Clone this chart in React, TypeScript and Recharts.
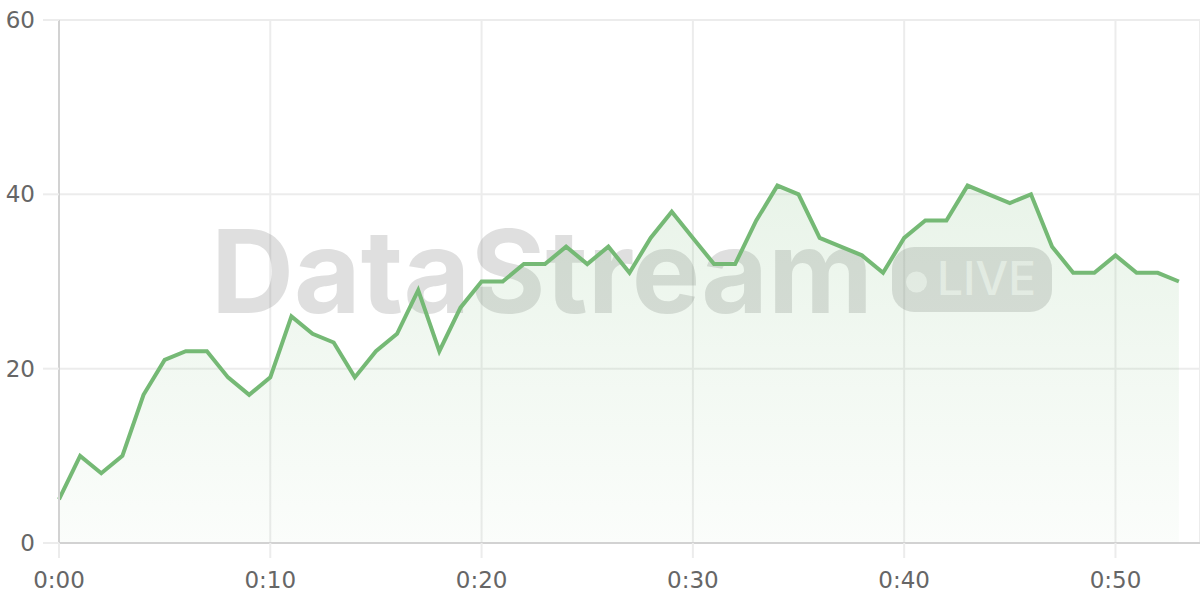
import React from 'react';
import { ComposedChart, Area, Line, XAxis, YAxis, CartesianGrid, Customized } from 'recharts';

// one reading per minute, 0:00 .. 0:53
const values = [
    5, 10, 8, 10, 17, 21, 22, 22, 19, 17,
    19, 26, 24, 23, 19, 22, 24, 29, 22, 27,
    30, 30, 32, 32, 34, 32, 34, 31, 35, 38,
    35, 32, 32, 37, 41, 40, 35, 34, 33, 31,
    35, 37, 37, 41, 40, 39, 40, 34, 31, 31,
    33, 31, 31, 30
];
const xTicks = [0, 10, 20, 30, 40, 50];
const xTickLabels = ['0:00', '0:10', '0:20', '0:30', '0:40', '0:50'];
const yTicks = [0, 20, 40, 60];

const data = values.map((value, minute) => ({ minute, value }));

const GREEN = '#75b975';
const AXIS_FONT = { fontFamily: 'DejaVu Sans', fontSize: 23, fill: '#666666' };

const Watermark = () => (
    <g pointerEvents="none">
        <text
            x={211}
            y={313}
            fontFamily="Inter"
            fontWeight={700}
            fontSize={115}
            letterSpacing={0}
            fill="rgba(120,120,120,0.24)"
        >
            DataStream
        </text>
        <rect x={892} y={247} width={160} height={65} rx={22} fill="rgba(120,120,120,0.24)" />
        <circle cx={916.5} cy={282} r={10.5} fill="rgba(255,255,255,0.6)" />
        <text x={937} y={295} fontFamily="Inter" fontWeight={500} fontSize={46} fill="rgba(255,255,255,0.6)">
            LIVE
        </text>
    </g>
);

export default function App() {
    return (
        <div style={{ width: 1200, height: 600, background: '#ffffff' }}>
            <style>{'body { margin: 0; }'}</style>
            <ComposedChart width={1200} height={600} data={data} margin={{ top: 20, right: 0, left: 0, bottom: 0 }}>
                <defs>
                    <linearGradient id="areaFill" x1="0" y1="0" x2="0" y2="1">
                        <stop offset="0%" stopColor={GREEN} stopOpacity={0.27} />
                        <stop offset="100%" stopColor={GREEN} stopOpacity={0.05} />
                    </linearGradient>
                </defs>
                <CartesianGrid stroke="#ececec" strokeWidth={2} />
                <XAxis
                    dataKey="minute"
                    type="number"
                    domain={[0, 54]}
                    ticks={xTicks}
                    tickFormatter={(v: number) => xTickLabels[xTicks.indexOf(v)]}
                    height={57}
                    tickSize={15}
                    tickMargin={14}
                    tick={AXIS_FONT}
                    tickLine={{ stroke: '#ececec', strokeWidth: 2 }}
                    axisLine={{ stroke: '#d2d2d2', strokeWidth: 2 }}
                    interval={0}
                />
                <YAxis
                    domain={[0, 60]}
                    ticks={yTicks}
                    width={59}
                    tickSize={16}
                    tickMargin={8}
                    tick={AXIS_FONT}
                    tickLine={{ stroke: '#ececec', strokeWidth: 2 }}
                    axisLine={{ stroke: '#d2d2d2', strokeWidth: 2 }}
                    interval={0}
                />
                <Area
                    type="linear"
                    dataKey="value"
                    stroke="none"
                    fill="url(#areaFill)"
                    isAnimationActive={false}
                />
                <Customized component={Watermark} />
                <Line
                    type="linear"
                    dataKey="value"
                    stroke={GREEN}
                    strokeWidth={4}
                    dot={false}
                    activeDot={false}
                    isAnimationActive={false}
                />
            </ComposedChart>
        </div>
    );
}
